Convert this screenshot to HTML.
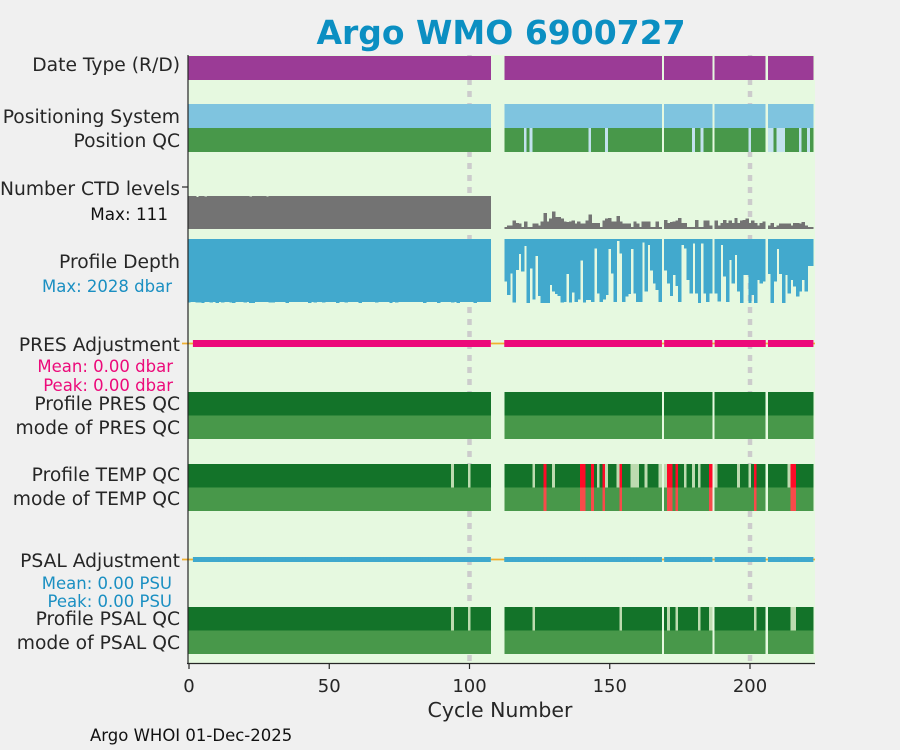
<!DOCTYPE html>
<html><head><meta charset="utf-8">
<style>
html,body{margin:0;padding:0;background:#f0f0f0;}
svg{display:block;font-family:"DejaVu Sans","Liberation Sans",sans-serif;}
</style></head>
<body>
<svg id="chart" width="900" height="750" viewBox="0 0 900 750" xmlns="http://www.w3.org/2000/svg">
<rect x="0" y="0" width="900" height="750" fill="#f0f0f0"/>
<rect x="188" y="55" width="627" height="608" fill="#e6f9e0"/>
<g id="grid"></g>
<g id="marks" shape-rendering="crispEdges"></g>
<g id="adj"></g>
<text x="501" y="44" text-anchor="middle" font-size="33" font-weight="bold" fill="#0b8fc2">Argo WMO 6900727</text>
<g font-size="18.7" fill="#262626" text-anchor="end">
<text x="180" y="71">Date Type (R/D)</text>
<text x="180" y="123">Positioning System</text>
<text x="180" y="147">Position QC</text>
<text x="180" y="195">Number CTD levels</text>
<text x="168" y="220" font-size="16.8" fill="#111">Max: 111</text>
<text x="180" y="268">Profile Depth</text>
<text x="172" y="292" font-size="16.5" fill="#1a8fc2">Max: 2028 dbar</text>
<text x="180" y="351">PRES Adjustment</text>
<text x="173" y="372" font-size="16.5" fill="#ec0a7a">Mean: 0.00 dbar</text>
<text x="173" y="391" font-size="16.5" fill="#ec0a7a">Peak: 0.00 dbar</text>
<text x="180" y="410">Profile PRES QC</text>
<text x="180" y="434">mode of PRES QC</text>
<text x="180" y="481">Profile TEMP QC</text>
<text x="180" y="505">mode of TEMP QC</text>
<text x="180" y="567">PSAL Adjustment</text>
<text x="172" y="589" font-size="16.5" fill="#1a8fc2">Mean: 0.00 PSU</text>
<text x="172" y="607" font-size="16.5" fill="#1a8fc2">Peak: 0.00 PSU</text>
<text x="180" y="625">Profile PSAL QC</text>
<text x="180" y="649">mode of PSAL QC</text>
</g>
<line x1="188" y1="55" x2="188" y2="664" stroke="#262626" stroke-width="1.2"/>
<line x1="182" y1="187" x2="188" y2="187" stroke="#262626" stroke-width="1.2"/>
<line x1="187" y1="663.5" x2="815" y2="663.5" stroke="#262626" stroke-width="1.2"/>
<g id="xaxis" font-size="18" fill="#262626" text-anchor="middle"></g>
<text x="500" y="717" text-anchor="middle" font-size="20.5" fill="#262626">Cycle Number</text>
<text x="90" y="741" font-size="16.5" fill="#111">Argo WHOI 01-Dec-2025</text>
</svg>
<script>
const firstCycle = 0;
const lastCycle = 222;
const missingCycles = [108,109,110,111,112,169,187,206];
const xTicks = [0,50,100,150,200];
const ctdLevels = [
111,111,111,108,111,111,110,111,111,111,111,111,111,111,111,111,111,111,111,111,
111,111,109,111,111,111,111,111,110,111,111,111,111,111,111,111,111,111,111,111,
111,111,111,111,111,111,111,111,111,111,111,111,111,111,111,111,111,111,111,111,
111,111,111,111,111,111,111,111,111,111,111,111,111,111,111,111,111,111,111,111,
111,111,111,111,111,111,111,111,111,111,111,111,111,111,111,111,111,111,111,111,
111,111,111,111,111,111,111,111,
7,12,12,29,20,18,7,26,7,7,18,18,12,26,54,26,35,59,40,40,
35,26,24,26,29,18,26,18,18,29,49,20,20,20,7,29,35,37,26,26,
44,26,18,18,18,7,26,18,7,26,26,26,7,7,26,7,
31,20,24,26,29,37,20,20,7,7,7,31,7,7,29,29,12,
29,12,20,31,20,29,20,37,20,29,31,35,20,29,20,12,20,26,
12,20,7,12,18,18,18,18,12,20,20,18,24,12,7,7];
const profileDepth = [
2010,2000,2000,2015,2005,2020,2000,2000,2010,2000,2020,2000,2005,2000,2000,2015,2020,2000,2000,2000,
2005,2000,2020,2020,2000,2000,2000,2000,2000,2010,2015,2000,2000,2000,2000,2020,2000,2000,2000,2000,
2000,2000,2000,2020,2000,2010,2000,2000,2005,2000,2000,2000,2000,2020,2000,2000,2010,2000,2000,2000,
2000,2020,2000,2000,2000,2000,2000,2010,2000,2000,2000,2000,2020,2000,2010,2000,2000,2000,2000,2000,
2000,2000,2000,2000,2020,2000,2000,2000,2000,2028,2000,2000,2000,2000,2010,2000,2020,2000,2000,2000,
2000,2000,2020,2000,2000,2000,2000,2000,
1353,1775,1088,2019,983,475,1036,222,2028,930,1913,539,1807,2028,2028,2028,1458,1670,1744,1807,
2019,2000,1110,2019,1702,2000,1913,687,2019,1934,1934,2000,296,1723,2000,1913,1775,317,1088,2000,
63,454,2000,1828,1744,317,1723,2000,2000,116,1670,190,1004,1405,1617,2000,
1004,1405,1807,1141,1490,2000,190,296,1300,1723,137,1723,2028,137,1723,2000,1723,
1723,1987,190,1194,2000,666,1405,507,1670,2028,1141,1141,2028,1775,2028,1300,1405,1353,
1110,2028,1353,317,1110,2028,1141,1723,1300,1511,1828,1670,1300,1670,856,856];
const positionBadCycles = [120,122,143,149,180,183,200,207,208,210,211,212,218,221];
const tempProbableCycles = [94,100,123,130,146,149,153,158,159,160,163,168,170,177,180,182,188,196,200,214];
const tempBadCycles = [127,140,141,144,148,154,171,172,174,186,202,215,216];
const psalProbableCycles = [94,100,123,154,171,174,182,186,202,215,216];
const ctdMax = 111;
const depthMax = 2028;

const NS = "http://www.w3.org/2000/svg";
const X0 = 189, PX = 2.805;
function xs(c){ return X0 + c*PX; }
function depthScale(d){ return d/depthMax*64; }
function ctdScale(v){ return v/ctdMax*33; }
const marks = document.getElementById('marks');
const adj = document.getElementById('adj');
const grid = document.getElementById('grid');
function rect(parent,x,y,w,h,fill){
  const r=document.createElementNS(NS,'rect');
  r.setAttribute('x',x.toFixed(2)); r.setAttribute('y',y.toFixed(2));
  r.setAttribute('width',w.toFixed(2)); r.setAttribute('height',h.toFixed(2));
  r.setAttribute('fill',fill); parent.appendChild(r); return r;
}
[100,200].forEach(function(c){
  const l=document.createElementNS(NS,'line');
  l.setAttribute('x1',xs(c)); l.setAttribute('x2',xs(c));
  l.setAttribute('y1',55); l.setAttribute('y2',663);
  l.setAttribute('stroke','#cccccc'); l.setAttribute('stroke-width',4.5);
  l.setAttribute('stroke-dasharray','6 6');
  
  
  grid.appendChild(l);
});
[[343.5,'pres'],[559.5,'psal']].forEach(function(p){
  const l=document.createElementNS(NS,'line');
  l.setAttribute('x1',182); l.setAttribute('x2',815);
  l.setAttribute('y1',p[0]); l.setAttribute('y2',p[0]);
  l.setAttribute('stroke','#f0b030'); l.setAttribute('stroke-width',1.8);
  
  
  adj.appendChild(l);
});
const cycles=[];
for(let c=firstCycle;c<=lastCycle;c++){ if(missingCycles.indexOf(c)<0) cycles.push(c); }
cycles.forEach(function(c,i){
  const x=xs(c)-PX/2-0.3, w=PX+0.6;
  let r;
  r=rect(marks,x,56,w,24,'#9b3b96');
  
  
  r=rect(marks,x,104,w,24,'#7fc4df');
  
  
  r=rect(marks,x,128,w,24,positionBadCycles.indexOf(c)>=0?'#c2e2ee':'#48984a');
  
  
  const hc=ctdScale(ctdLevels[i]);
  r=rect(marks,x,229-hc,w,hc,'#737373');
  
  
  const hd=depthScale(profileDepth[i]);
  r=rect(marks,x,239,w,hd,'#42a9cd');
  
  
  if(c>=2){
    r=rect(adj,x,340,w,7,'#ec0a7a');
    
    
    r=rect(adj,x,557,w,5,'#3fa9cd');
    
    
  }
  r=rect(marks,x,392,w,23.5,'#137329');
  
  
  r=rect(marks,x,415.5,w,23.5,'#48984a');
  
  
  const tb=tempBadCycles.indexOf(c)>=0, tp=tempProbableCycles.indexOf(c)>=0;
  r=rect(marks,x,464,w,23.5,tb?'#ff0a28':(tp?'#bddbb0':'#137329'));
  
  
  r=rect(marks,x,487.5,w,23.5,tb?'#f84a4a':'#48984a');
  
  
  const sp=psalProbableCycles.indexOf(c)>=0;
  r=rect(marks,x,607,w,23.5,sp?'#bddbb0':'#137329');
  
  
  r=rect(marks,x,630.5,w,23.5,'#48984a');
  
  
});
const xa=document.getElementById('xaxis');
xTicks.forEach(function(t){
  const l=document.createElementNS(NS,'line');
  l.setAttribute('x1',xs(t)); l.setAttribute('x2',xs(t));
  l.setAttribute('y1',663); l.setAttribute('y2',669);
  l.setAttribute('stroke','#262626'); l.setAttribute('stroke-width',1.2);
  
  
  xa.appendChild(l);
  const tx=document.createElementNS(NS,'text');
  tx.setAttribute('x',xs(t)); tx.setAttribute('y',692);
  tx.textContent=String(t);
  
  
  xa.appendChild(tx);
});
</script>
</body></html>
